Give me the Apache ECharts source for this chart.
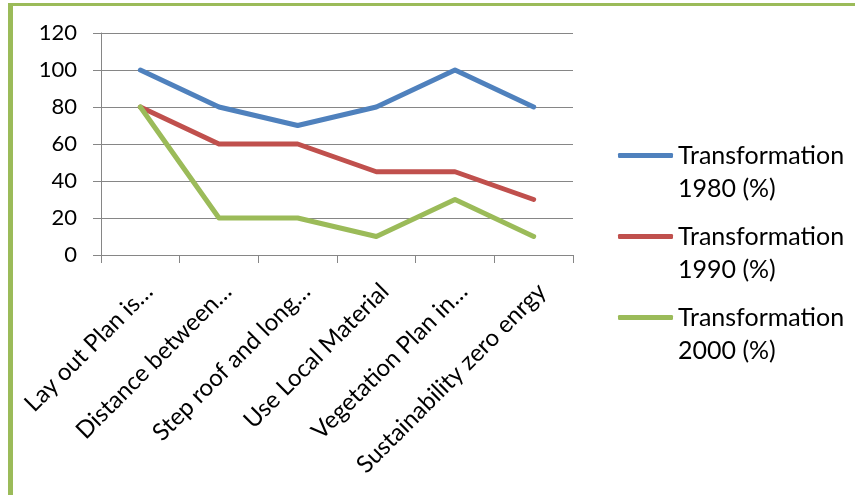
<!DOCTYPE html>
<html>
<head>
<meta charset="utf-8">
<script src="https://cdn.jsdelivr.net/npm/echarts@6/dist/echarts.min.js"></script>
<style>
  html, body { margin: 0; padding: 0; background: #fff; }
  #chart { width: 855px; height: 495px; }
</style>
</head>
<body>
<div id="chart"></div>
<script>
const categories = [
  'Lay out Plan is…',
  'Distance between…',
  'Step roof and long…',
  'Use Local Material',
  'Vegetation Plan in…',
  'Sustainability zero enrgy'
];
const seriesNames = ['Transformation\n1980 (%)', 'Transformation\n1990 (%)', 'Transformation\n2000 (%)'];
const values1980 = [100, 80, 70, 80, 100, 80];
const values1990 = [80, 60, 60, 45, 45, 30];
const values2000 = [80, 20, 20, 10, 30, 10];
const colors = ['#4F81BD', '#C0504D', '#9BBB59'];

const font = 'Lato, "Noto Sans", sans-serif';
const axisGray = '#868686';

const chart = echarts.init(document.getElementById('chart'), null, { renderer: 'canvas' });

const makeSeries = (name, data, color) => ({
  name,
  type: 'line',
  data,
  symbol: 'none',
  color,
  lineStyle: { width: 5, color, cap: 'round', join: 'round' }
});

const option = {
  animation: false,
  grid: { left: 101, right: 282, top: 33, bottom: 240, containLabel: false },
  legend: {
    orient: 'vertical',
    left: 613,
    top: 101,
    itemWidth: 55,
    itemHeight: 5,
    itemGap: -18,
    icon: 'roundRect',
    selectedMode: false,
    // leading blank line so the icon sits beside the first text line
    formatter: (name) => '\n' + name,
    textStyle: {
      fontFamily: font,
      fontSize: 25,
      color: '#000',
      lineHeight: 33
    },
    data: seriesNames
  },
  xAxis: {
    type: 'category',
    data: categories,
    boundaryGap: true,
    axisLine: { lineStyle: { color: axisGray, width: 1 } },
    axisTick: { show: true, length: 8, lineStyle: { color: axisGray } },
    axisLabel: {
      interval: 0,
      rotate: 45,
      margin: 24,
      verticalAlign: 'top',
      fontFamily: font,
      fontSize: 24,
      color: '#000'
    },
    splitLine: { show: false }
  },
  yAxis: {
    type: 'value',
    min: 0,
    max: 120,
    interval: 20,
    axisLine: { show: true, lineStyle: { color: axisGray, width: 1 } },
    axisTick: { show: true, length: 8, lineStyle: { color: axisGray } },
    axisLabel: {
      margin: 24,
      fontFamily: font,
      fontSize: 22,
      color: '#000'
    },
    splitLine: { show: true, lineStyle: { color: axisGray, width: 1 } }
  },
  graphic: [
    { type: 'rect', shape: { x: 10, y: 3, width: 845, height: 3 }, style: { fill: '#9BBB59' }, silent: true },
    { type: 'rect', shape: { x: 8, y: 3, width: 5, height: 492 }, style: { fill: '#9BBB59' }, silent: true }
  ],
  series: [
    makeSeries(seriesNames[0], values1980, colors[0]),
    makeSeries(seriesNames[1], values1990, colors[1]),
    makeSeries(seriesNames[2], values2000, colors[2])
  ]
};

chart.setOption(option);
</script>
</body>
</html>
